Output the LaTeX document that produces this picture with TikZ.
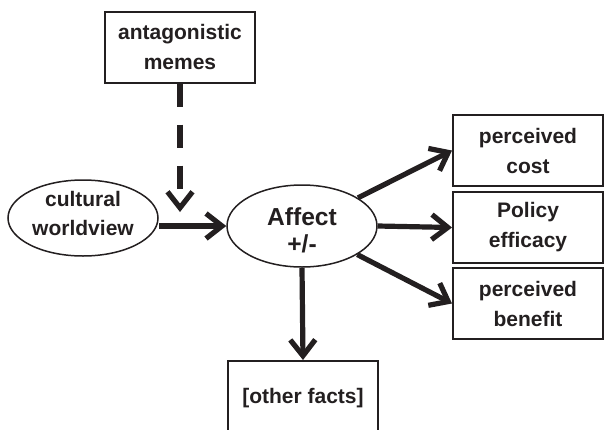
\documentclass[tikz,border=0pt]{standalone}
\usepackage{fontspec}
\setmainfont{Liberation Sans}
\usetikzlibrary{arrows.meta,shapes.geometric}
\definecolor{ink}{HTML}{231F20}
\begin{document}
\begin{tikzpicture}[x=0.5pt,y=-0.5pt,
  every node/.style={text=ink,font=\fontsize{10.5pt}{15pt}\selectfont\bfseries,align=center,inner sep=0pt},
  boxnode/.style={draw=ink,line width=1pt,rectangle,minimum width=75pt,minimum height=35.5pt},
  ellnode/.style={draw=ink,line width=0.75pt,ellipse,minimum width=75pt},
  conn/.style={draw=ink,line width=2.6pt,-{Straight Barb[length=8pt,width=12.5pt]}},
  dashconn/.style={conn,dash pattern=on 11.5pt off 9pt}]
\useasboundingbox (0,0) rectangle (605,429);
\clip (0,0) rectangle (605,429);
\node[boxnode] (am) at (180,47) {antagonistic\\memes};
\node[ellnode,minimum height=38pt,font=\fontsize{10.5pt}{14.5pt}\selectfont\bfseries] (cw) at (83,218) {cultural\\worldview\rule[-4.5pt]{0pt}{1pt}};
\node[ellnode,minimum height=41pt,font=\fontsize{12.3pt}{13.5pt}\selectfont\bfseries] (aff) at (302,226) {\rule{0pt}{13pt}Affect\\+/-};
\node[boxnode] (cost) at (528,150.5) {perceived\\cost};
\node[boxnode] (pol) at (528,227.5) {Policy\\efficacy};
\node[boxnode] (ben) at (528,303.5) {perceived\\benefit};
\node[boxnode,minimum height=37pt] (of) at (303,398) {[other facts]};
\coordinate (dtip) at (am.south |- 0,212);
\draw[dashconn] (am.south) -- (dtip);
\draw[conn] (aff.west -| cw.east) -- (aff.west);
\draw[conn] (aff) -- (cost.west);
\draw[conn] (aff.east) -- (pol.west);
\draw[conn] (aff) -- (ben.west);
\draw[conn] (aff.south) -- (of.north);
\end{tikzpicture}
\end{document}
